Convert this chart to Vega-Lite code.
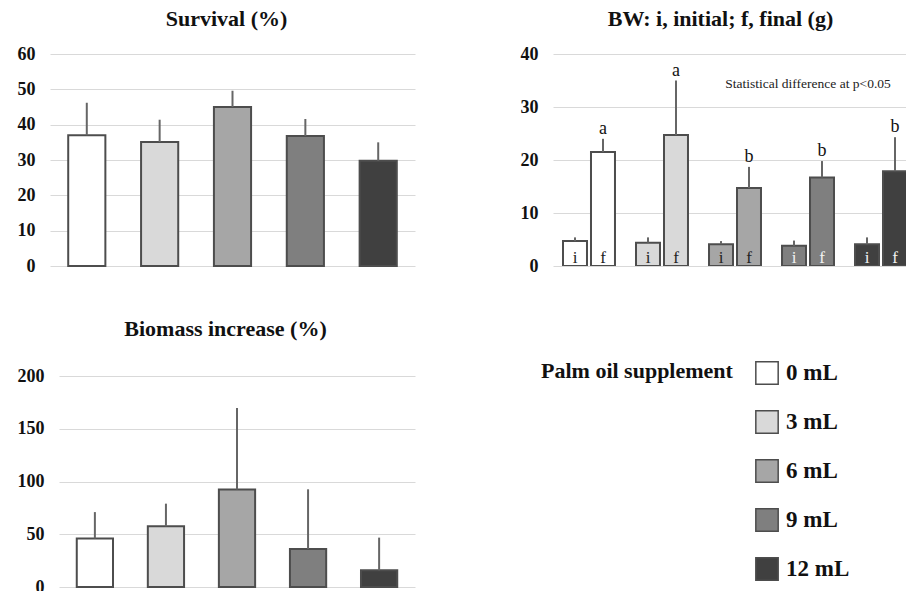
{
  "$schema": "https://vega.github.io/schema/vega-lite/v6.json",
  "padding": {"left": 17, "top": 8, "right": 0, "bottom": -5},
  "config": {
    "font": "Liberation Serif",
    "view": {"stroke": null},
    "axisY": {"grid": true, "gridColor": "#d9d9d9", "gridWidth": 1, "domain": false, "ticks": false, "labelPadding": 15, "labelFont": "Liberation Serif", "labelFontSize": 18, "labelFontWeight": "bold", "labelColor": "#111111", "title": null},
    "title": {"font": "Liberation Serif", "fontSize": 22, "fontWeight": "bold", "color": "#111111", "offset": 14}
  },
  "datasets": {
    "survival": [
      {"supplement": "0 mL", "mean": 37, "upper": 46.2},
      {"supplement": "3 mL", "mean": 35.1, "upper": 41.4},
      {"supplement": "6 mL", "mean": 45, "upper": 49.6},
      {"supplement": "9 mL", "mean": 36.8, "upper": 41.6},
      {"supplement": "12 mL", "mean": 29.8, "upper": 35}
    ],
    "bw": [
      {"supplement": "0 mL", "stage": "i", "mean": 4.7, "upper": 5.4, "sig": ""},
      {"supplement": "0 mL", "stage": "f", "mean": 21.5, "upper": 24.0, "sig": "a"},
      {"supplement": "3 mL", "stage": "i", "mean": 4.4, "upper": 5.4, "sig": ""},
      {"supplement": "3 mL", "stage": "f", "mean": 24.7, "upper": 35.0, "sig": "a"},
      {"supplement": "6 mL", "stage": "i", "mean": 4.1, "upper": 4.7, "sig": ""},
      {"supplement": "6 mL", "stage": "f", "mean": 14.7, "upper": 18.7, "sig": "b"},
      {"supplement": "9 mL", "stage": "i", "mean": 3.8, "upper": 4.8, "sig": ""},
      {"supplement": "9 mL", "stage": "f", "mean": 16.7, "upper": 19.8, "sig": "b"},
      {"supplement": "12 mL", "stage": "i", "mean": 4.1, "upper": 5.4, "sig": ""},
      {"supplement": "12 mL", "stage": "f", "mean": 17.9, "upper": 24.3, "sig": "b"}
    ],
    "note": [
      {"supplement": "9 mL", "y": 34.4, "text": "Statistical difference at p<0.05"}
    ],
    "biomass": [
      {"supplement": "0 mL", "mean": 46, "upper": 71},
      {"supplement": "3 mL", "mean": 57.5, "upper": 79},
      {"supplement": "6 mL", "mean": 92.3, "upper": 169.7},
      {"supplement": "9 mL", "mean": 36, "upper": 92.6},
      {"supplement": "12 mL", "mean": 15.8, "upper": 46.8}
    ]
  },
  "columns": 2,
  "spacing": {"row": 43, "column": 105},
  "concat": [
    {
      "width": 365,
      "height": 212,
      "title": {"text": "Survival (%)", "dx": -6},
      "data": {"name": "survival"},
      "encoding": {
        "x": {"field": "supplement", "type": "nominal", "sort": ["0 mL", "3 mL", "6 mL", "9 mL", "12 mL"], "axis": null, "scale": {"paddingInner": 0.49, "paddingOuter": 0.25}},
        "y": {"field": "mean", "type": "quantitative", "scale": {"domain": [0, 60]}, "axis": {"values": [0, 10, 20, 30, 40, 50, 60]}}
      },
      "layer": [
        {
          "mark": {"type": "bar", "stroke": "#4d4d4d", "strokeWidth": 2},
          "encoding": {
            "color": {
              "field": "supplement", "type": "nominal",
              "scale": {"domain": ["0 mL", "3 mL", "6 mL", "9 mL", "12 mL"], "range": ["#ffffff", "#d9d9d9", "#a6a6a6", "#7f7f7f", "#404040"]},
              "legend": {"orient": "none", "legendX": 491, "legendY": 307, "title": "Palm oil supplement", "titleOrient": "left", "titleFont": "Liberation Serif", "titleFontSize": 22, "titleFontWeight": "bold", "titleColor": "#111111", "titlePadding": 22, "titleLimit": 400, "titleAnchor": "start", "titleBaseline": "top", "labelFont": "Liberation Serif", "labelFontSize": 23, "labelFontWeight": "bold", "labelColor": "#111111", "labelOffset": 7, "symbolType": "square", "symbolSize": 500, "symbolStrokeColor": "#444444", "symbolStrokeWidth": 1.5, "symbolOpacity": 1, "rowPadding": 19}
            }
          }
        },
        {
          "mark": {"type": "rule", "stroke": "#666666", "strokeWidth": 2},
          "encoding": {
            "y2": {"field": "upper"}
          }
        }
      ]
    },
    {
      "width": 353,
      "height": 212,
      "title": {"text": "BW: i, initial; f, final (g)", "dx": -9},
      "layer": [
        {
          "data": {"name": "bw"},
          "mark": {"type": "bar", "stroke": "#4d4d4d", "strokeWidth": 2, "clip": true},
          "encoding": {
            "x": {"field": "supplement", "type": "nominal", "sort": ["0 mL", "3 mL", "6 mL", "9 mL", "12 mL"], "axis": null, "scale": {"range": [0, 364], "paddingInner": 0.288, "paddingOuter": 0.137}},
            "xOffset": {"field": "stage", "type": "nominal", "sort": ["i", "f"], "scale": {"paddingInner": 0.143, "paddingOuter": 0}},
            "y": {"field": "mean", "type": "quantitative", "scale": {"domain": [0, 40]}, "axis": {"values": [0, 10, 20, 30, 40]}},
            "color": {
              "field": "supplement", "type": "nominal",
              "scale": {"domain": ["0 mL", "3 mL", "6 mL", "9 mL", "12 mL"], "range": ["#ffffff", "#d9d9d9", "#a6a6a6", "#7f7f7f", "#404040"]}
            }
          }
        },
        {
          "data": {"name": "bw"},
          "mark": {"type": "rule", "stroke": "#666666", "strokeWidth": 2, "clip": true},
          "encoding": {
            "x": {"field": "supplement", "type": "nominal", "sort": ["0 mL", "3 mL", "6 mL", "9 mL", "12 mL"]},
            "xOffset": {"field": "stage", "type": "nominal", "sort": ["i", "f"]},
            "y": {"field": "mean", "type": "quantitative"},
            "y2": {"field": "upper"}
          }
        },
        {
          "data": {"name": "bw"},
          "mark": {"type": "text", "font": "Liberation Serif", "fontSize": 17, "baseline": "alphabetic", "dy": -3, "clip": true},
          "encoding": {
            "x": {"field": "supplement", "type": "nominal", "sort": ["0 mL", "3 mL", "6 mL", "9 mL", "12 mL"]},
            "xOffset": {"field": "stage", "type": "nominal", "sort": ["i", "f"]},
            "y": {"datum": 0, "type": "quantitative"},
            "text": {"field": "stage"},
            "color": {"condition": {"test": "datum.supplement === '9 mL' || datum.supplement === '12 mL'", "value": "#f2f2f2"}, "value": "#222222"}
          }
        },
        {
          "data": {"name": "bw"},
          "mark": {"type": "text", "font": "Liberation Serif", "fontSize": 18, "baseline": "alphabetic", "dy": -5, "color": "#111111", "clip": true},
          "encoding": {
            "x": {"field": "supplement", "type": "nominal", "sort": ["0 mL", "3 mL", "6 mL", "9 mL", "12 mL"]},
            "xOffset": {"field": "stage", "type": "nominal", "sort": ["i", "f"]},
            "y": {"field": "upper", "type": "quantitative"},
            "text": {"field": "sig"}
          }
        },
        {
          "data": {"name": "note"},
          "mark": {"type": "text", "font": "Liberation Serif", "fontSize": 13.5, "baseline": "middle", "align": "center", "color": "#222222"},
          "encoding": {
            "x": {"field": "supplement", "type": "nominal", "sort": ["0 mL", "3 mL", "6 mL", "9 mL", "12 mL"]},
            "y": {"field": "y", "type": "quantitative"},
            "text": {"field": "text"}
          }
        }
      ]
    },
    {
      "width": 365,
      "height": 211,
      "title": {"text": "Biomass increase (%)", "offset": 26, "dx": -7},
      "data": {"name": "biomass"},
      "encoding": {
        "x": {"field": "supplement", "type": "nominal", "sort": ["0 mL", "3 mL", "6 mL", "9 mL", "12 mL"], "axis": null, "scale": {"range": [9, 365], "paddingInner": 0.49, "paddingOuter": 0.25}},
        "y": {"field": "mean", "type": "quantitative", "scale": {"domain": [0, 200]}, "axis": {"values": [0, 50, 100, 150, 200], "labelPadding": 6}}
      },
      "layer": [
        {
          "mark": {"type": "bar", "stroke": "#4d4d4d", "strokeWidth": 2},
          "encoding": {
            "color": {
              "field": "supplement", "type": "nominal",
              "scale": {"domain": ["0 mL", "3 mL", "6 mL", "9 mL", "12 mL"], "range": ["#ffffff", "#d9d9d9", "#a6a6a6", "#7f7f7f", "#404040"]}
            }
          }
        },
        {
          "mark": {"type": "rule", "stroke": "#666666", "strokeWidth": 2},
          "encoding": {
            "y2": {"field": "upper"}
          }
        }
      ]
    }
  ]
}
